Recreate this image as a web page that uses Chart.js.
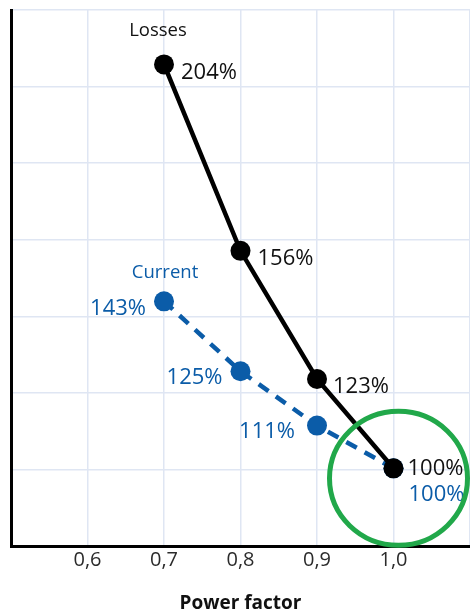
<!DOCTYPE html>
<html lang="en">
<head>
    <meta charset="UTF-8">
    <script src="https://cdn.jsdelivr.net/npm/chart.js"></script>
    <style>
        body, html {
            margin: 0;
            padding: 0;
            background: #fff;
        }
        #wrap {
            width: 470px;
            height: 613px;
        }
    </style>
</head>
<body>
    <div id="wrap"><canvas id="chart"></canvas></div>
    <script>
        // data
        const powerFactor = [0.7, 0.8, 0.9, 1.0];
        const losses = [204, 156, 123, 100];
        const current = [143, 125, 111, 100];
        const xTicks = ['0,6', '0,7', '0,8', '0,9', '1,0'];

        const FONT = '"Open Sans", sans-serif';
        const BLACK = '#000000';
        const BLUE = '#0b5ca8';
        const GREEN = '#21a84a';

        // value labels, offset from each point in pixels
        const lossLabelOffsets = [[17, 8], [17, 8], [16, 8], [14, 0]];
        const currentLabelOffsets = [[-18, 7], [-18, 7], [-22, 6], [15, 26]];

        const labelsPlugin = {
            id: 'labels',
            afterDatasetsDraw(chart) {
                const ctx = chart.ctx;
                const x = chart.scales.x, y = chart.scales.y;
                ctx.save();
                ctx.font = '22px ' + FONT;
                ctx.textBaseline = 'middle';

                losses.forEach((v, i) => {
                    const px = x.getPixelForValue(powerFactor[i]);
                    const py = y.getPixelForValue(v);
                    ctx.fillStyle = '#111';
                    ctx.textAlign = 'left';
                    ctx.fillText(v + '%', px + lossLabelOffsets[i][0], py + lossLabelOffsets[i][1]);
                });
                current.forEach((v, i) => {
                    const px = x.getPixelForValue(powerFactor[i]);
                    const py = y.getPixelForValue(v);
                    const off = currentLabelOffsets[i];
                    ctx.fillStyle = BLUE;
                    ctx.textAlign = off[0] < 0 ? 'right' : 'left';
                    ctx.fillText(v + '%', px + off[0], py + off[1]);
                });

                // series names
                ctx.font = '18.5px ' + FONT;
                ctx.textAlign = 'center';
                ctx.fillStyle = '#111';
                ctx.fillText('Losses', x.getPixelForValue(powerFactor[0]) - 6, y.getPixelForValue(losses[0]) - 34);
                ctx.fillStyle = BLUE;
                ctx.fillText('Current', x.getPixelForValue(powerFactor[0]) + 1, y.getPixelForValue(current[0]) - 29);

                // highlight ring round the 1,0 point
                const cx = x.getPixelForValue(powerFactor[3]) + 5;
                const cy = y.getPixelForValue(losses[3]) + 10;
                ctx.strokeStyle = GREEN;
                ctx.lineWidth = 5;
                ctx.beginPath();
                ctx.ellipse(cx, cy, 69, 67, 0, 0, Math.PI * 2);
                ctx.stroke();
                ctx.restore();
            }
        };

        new Chart(document.getElementById('chart'), {
            type: 'line',
            data: {
                datasets: [
                    {
                        label: 'Losses',
                        data: powerFactor.map((p, i) => ({ x: p, y: losses[i] })),
                        borderColor: BLACK,
                        backgroundColor: BLACK,
                        borderWidth: 4.5,
                        pointRadius: 10,
                        pointBorderWidth: 0,
                        pointHoverRadius: 10
                    },
                    {
                        label: 'Current',
                        data: powerFactor.map((p, i) => ({ x: p, y: current[i] })),
                        borderColor: BLUE,
                        backgroundColor: BLUE,
                        borderWidth: 4.5,
                        borderDash: [12, 9],
                        pointRadius: 10,
                        pointBorderWidth: 0,
                        pointHoverRadius: 10
                    }
                ]
            },
            options: {
                responsive: true,
                maintainAspectRatio: false,
                animation: false,
                layout: { autoPadding: false, padding: { left: 11, top: 10, right: 0, bottom: 0 } },
                plugins: {
                    legend: { display: false },
                    tooltip: { enabled: false }
                },
                scales: {
                    x: {
                        type: 'linear',
                        min: 0.5,
                        max: 1.1,
                        border: { color: BLACK, width: 3 },
                        grid: { color: '#dfe6f3', lineWidth: 1.5, drawTicks: false },
                        afterBuildTicks: (scale) => {
                            scale.ticks = [0.5, 0.6, 0.7, 0.8, 0.9, 1.0, 1.1].map(v => ({ value: v }));
                        },
                        ticks: {
                            autoSkip: false,
                            maxRotation: 0,
                            padding: 0,
                            color: '#2b2b2b',
                            font: { family: FONT, size: 20, lineHeight: 1.4 },
                            callback: (v) => {
                                const i = Math.round(v * 10) - 6;
                                return xTicks[i] !== undefined ? xTicks[i] : '';
                            }
                        },
                        title: {
                            display: true,
                            text: 'Power factor',
                            color: '#111',
                            font: { family: FONT, size: 19, weight: 'bold', lineHeight: 1.0 },
                            padding: { top: 20, bottom: 0 }
                        }
                    },
                    y: {
                        min: 80,
                        max: 218,
                        border: { color: BLACK, width: 3 },
                        grid: { color: '#dfe6f3', lineWidth: 1.5, drawTicks: false },
                        afterBuildTicks: (scale) => {
                            const step = (218 - 80) / 7;
                            scale.ticks = Array.from({ length: 8 }, (_, i) => ({ value: 80 + i * step }));
                        },
                        ticks: { display: false }
                    }
                }
            },
            plugins: [labelsPlugin]
        });
    </script>
</body>
</html>
